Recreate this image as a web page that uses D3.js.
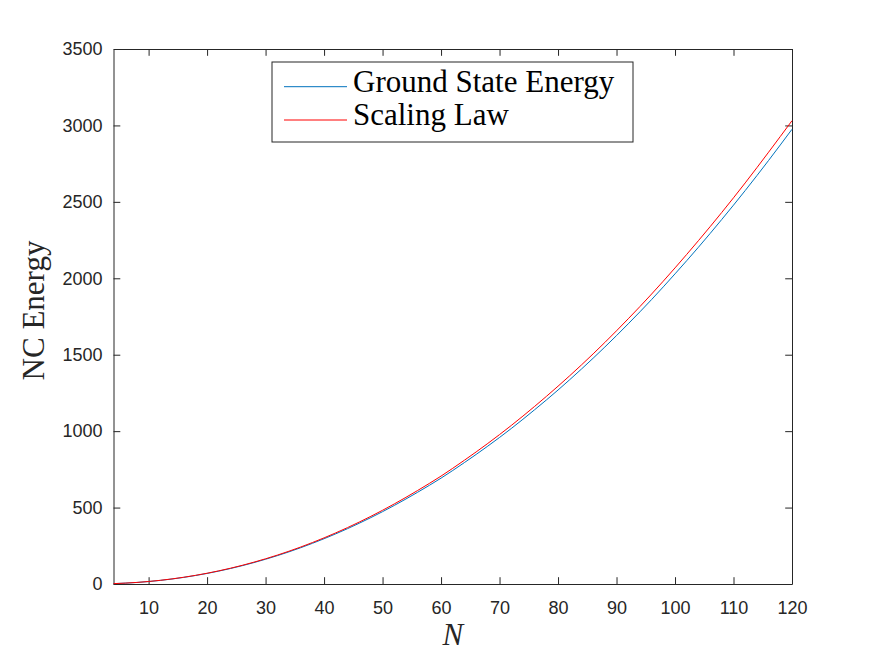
<!DOCTYPE html>
<html>
<head>
<meta charset="utf-8">
<script src="https://cdn.jsdelivr.net/npm/d3@7"></script>
<style>
  body { margin: 0; background: #fff; }
  svg { display: block; }
</style>
</head>
<body>
<div id="chart"></div>
<script>
// Values
const nValues = [4, 8, 12, 16, 20, 24, 28, 32, 36, 40, 44, 48, 52, 56, 60,
                 64, 68, 72, 76, 80, 84, 88, 92, 96, 100, 104, 108, 112, 116, 120];
const groundEnergy = [2.35, 10.1, 23.6, 43.2, 69.1, 101.2, 140, 185.3, 237.3, 296.2,
                      361.8, 434.4, 513.8, 600.2, 692.6, 794.5, 902.3, 1017, 1140, 1269,
                      1406, 1550, 1702, 1861, 2029, 2203, 2385, 2574, 2771, 2975];
const scalingLaw = [2.4, 10.3, 24.1, 44.1, 70.4, 103.2, 142.7, 188.9, 241.9, 301.9,
                    368.8, 442.8, 523.7, 611.8, 706, 809.9, 919.8, 1037, 1162, 1294,
                    1433, 1580, 1735, 1897, 2068, 2246, 2431, 2624, 2825, 3031];
const xTicks = [10, 20, 30, 40, 50, 60, 70, 80, 90, 100, 110, 120];
const yTicks = [0, 500, 1000, 1500, 2000, 2500, 3000, 3500];
const seriesNames = ["Ground State Energy", "Scaling Law"];
const seriesColors = ["#0072BD", "#FF0000"];

const width = 875, height = 657;
const margin = {left: 113.5, right: 875 - 792, top: 49, bottom: 657 - 584};
const axisColor = "#262626";
const tickLen = 6.8;

const svg = d3.select("#chart").append("svg")
    .attr("width", width)
    .attr("height", height)
    .style("background", "#fff");

const x = d3.scaleLinear().domain([4, 120]).range([margin.left, width - margin.right]);
const y = d3.scaleLinear().domain([0, 3500]).range([height - margin.bottom, margin.top]);

// axes, ticks pointing inward like MATLAB
function styleAxis(g) {
    g.select(".domain").attr("stroke", axisColor).attr("stroke-width", 1);
    g.selectAll(".tick line").attr("stroke", axisColor).attr("stroke-width", 1);
    g.selectAll(".tick text")
        .attr("fill", axisColor)
        .style("font-family", "'Liberation Sans', Arial, sans-serif")
        .style("font-size", "18px");
}

svg.append("g")
    .attr("transform", `translate(0,${y(0)})`)
    .call(d3.axisBottom(x).tickValues(xTicks).tickSizeInner(-tickLen).tickSizeOuter(0)
        .tickPadding(17).tickFormat(d3.format("d")))
    .call(styleAxis);

svg.append("g")
    .attr("transform", `translate(0,${y(3500)})`)
    .call(d3.axisTop(x).tickValues(xTicks).tickSizeInner(-tickLen).tickSizeOuter(0).tickFormat(""))
    .call(styleAxis);

svg.append("g")
    .attr("transform", `translate(${x(4)},0)`)
    .call(d3.axisLeft(y).tickValues(yTicks).tickSizeInner(-tickLen).tickSizeOuter(0)
        .tickPadding(11).tickFormat(d3.format("d")))
    .call(styleAxis);

svg.append("g")
    .attr("transform", `translate(${x(120)},0)`)
    .call(d3.axisRight(y).tickValues(yTicks).tickSizeInner(-tickLen).tickSizeOuter(0).tickFormat(""))
    .call(styleAxis);

// curves
const allSeries = [groundEnergy, scalingLaw];
const line = d3.line()
    .x((d, i) => x(nValues[i]))
    .y(d => y(d))
    .curve(d3.curveMonotoneX);

svg.selectAll(".curve")
    .data(allSeries)
    .enter().append("path")
    .attr("class", "curve")
    .attr("d", line)
    .attr("fill", "none")
    .attr("stroke", (d, i) => seriesColors[i])
    .attr("stroke-width", 1);

// axis labels
svg.append("text")
    .attr("x", (x(4) + x(120)) / 2)
    .attr("y", 645)
    .attr("text-anchor", "middle")
    .style("font-family", "'Liberation Serif', 'Times New Roman', serif")
    .style("font-style", "italic")
    .style("font-size", "31px")
    .attr("fill", axisColor)
    .text("N");

svg.append("text")
    .attr("transform", `translate(44,${(y(0) + y(3500)) / 2 - 6}) rotate(-90)`)
    .attr("text-anchor", "middle")
    .style("font-family", "'Liberation Serif', 'Times New Roman', serif")
    .style("font-size", "31px")
    .attr("fill", axisColor)
    .text("NC Energy");

// legend
const legend = svg.append("g").attr("transform", "translate(272,62)");

legend.append("rect")
    .attr("x", 0)
    .attr("y", 0)
    .attr("width", 361)
    .attr("height", 80)
    .attr("fill", "#fff")
    .attr("stroke", axisColor)
    .attr("stroke-width", 1);

legend.selectAll("line")
    .data(seriesNames)
    .enter().append("line")
    .attr("x1", 12)
    .attr("x2", 75)
    .attr("y1", (d, i) => 24.7 + i * 33.3)
    .attr("y2", (d, i) => 24.7 + i * 33.3)
    .attr("stroke", (d, i) => seriesColors[i])
    .attr("stroke-width", 1);

legend.selectAll("text")
    .data(seriesNames)
    .enter().append("text")
    .attr("x", 81)
    .attr("y", (d, i) => 30 + i * 33.3)
    .style("font-family", "'Liberation Serif', 'Times New Roman', serif")
    .style("font-size", "31px")
    .attr("fill", "#000")
    .text(d => d);
</script>
</body>
</html>
